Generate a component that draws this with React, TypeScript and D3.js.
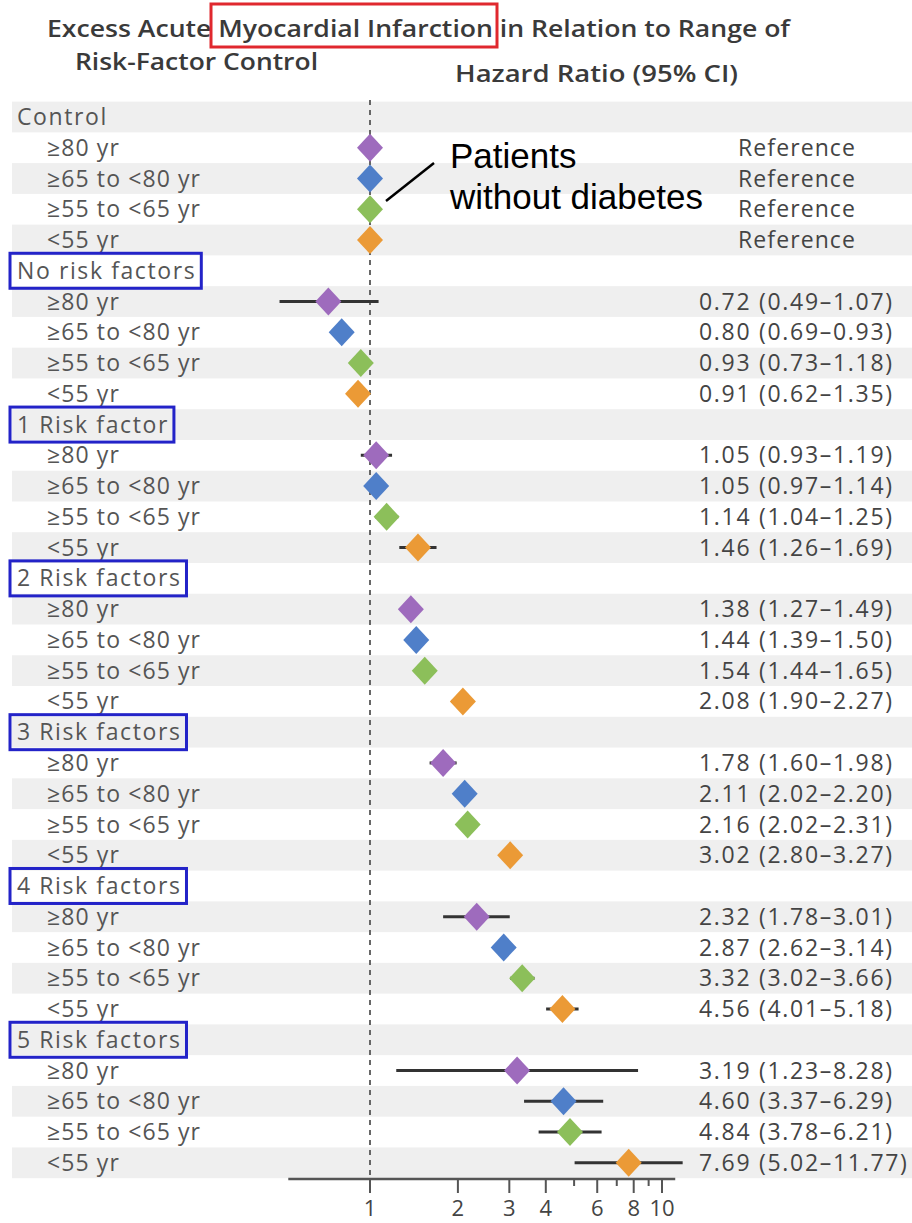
import React, { useEffect, useRef } from "react";
import * as d3 from "d3";

const groups = ["Control", "No risk factors", "1 Risk factor", "2 Risk factors", "3 Risk factors", "4 Risk factors", "5 Risk factors"];
const ages = ["≥80 yr", "≥65 to <80 yr", "≥55 to <65 yr", "<55 yr"];
const ageColors = ["#9e6bbd", "#4f7fc9", "#8cbf5a", "#eb9a36"];
// hazard ratios [group][age]
const hr = [
  [1, 1, 1, 1],
  [0.72, 0.8, 0.93, 0.91],
  [1.05, 1.05, 1.14, 1.46],
  [1.38, 1.44, 1.54, 2.08],
  [1.78, 2.11, 2.16, 3.02],
  [2.32, 2.87, 3.32, 4.56],
  [3.19, 4.6, 4.84, 7.69],
];
const lower = [
  [null, null, null, null],
  [0.49, 0.69, 0.73, 0.62],
  [0.93, 0.97, 1.04, 1.26],
  [1.27, 1.39, 1.44, 1.9],
  [1.6, 2.02, 2.02, 2.8],
  [1.78, 2.62, 3.02, 4.01],
  [1.23, 3.37, 3.78, 5.02],
];
const upper = [
  [null, null, null, null],
  [1.07, 0.93, 1.18, 1.35],
  [1.19, 1.14, 1.25, 1.69],
  [1.49, 1.5, 1.65, 2.27],
  [1.98, 2.2, 2.31, 3.27],
  [3.01, 3.14, 3.66, 5.18],
  [8.28, 6.29, 6.21, 11.77],
];
// whether the reference figure draws a whisker for the row
const whiskerShown = [
  [false, false, false, false],
  [true, false, false, false],
  [true, true, true, true],
  [true, true, true, true],
  [true, true, true, true],
  [true, true, true, true],
  [true, true, true, true],
];
const majorTicks = [1, 2, 3, 4, 6, 8, 10];
const minorTicks = [5, 7, 9];

const W = 912;
const H = 1223;
const FONT = "'Open Sans', sans-serif";

export default function App() {
  const ref = useRef<SVGSVGElement | null>(null);

  useEffect(() => {
    const svg = d3.select(ref.current);
    svg.selectAll("*").remove();

    type Row = { id: string; label: string; kind: "group" | "age"; g: number; a: number };
    const rows: Row[] = [];
    groups.forEach((gname, gi) => {
      rows.push({ id: `g${gi}`, label: gname, kind: "group", g: gi, a: -1 });
      ages.forEach((an, ai) => rows.push({ id: `g${gi}a${ai}`, label: an, kind: "age", g: gi, a: ai }));
    });

    const rowH = 30.76;
    const y = d3.scaleBand<string>().domain(rows.map((r) => r.id)).range([101.6, 101.6 + rows.length * rowH]).padding(0);
    const yc = (id: string) => (y(id) as number) + y.bandwidth() / 2;
    const x = d3.scaleLog().domain([1, 10]).range([370, 662]);
    const axisY = 1179;

    // stripes
    svg
      .append("g")
      .selectAll("rect")
      .data(rows.filter((_, i) => i % 2 === 0))
      .join("rect")
      .attr("x", 12)
      .attr("width", W - 12)
      .attr("y", (d) => y(d.id) as number)
      .attr("height", y.bandwidth())
      .attr("fill", "#efefef");

    // title
    const title = svg.append("g").attr("font-family", FONT).attr("font-weight", 600).attr("fill", "#3a3a3a").attr("font-size", 24);
    title.append("text").attr("x", 47).attr("y", 37).attr("textLength", 743).attr("lengthAdjust", "spacingAndGlyphs").text("Excess Acute Myocardial Infarction in Relation to Range of");
    title.append("text").attr("x", 75).attr("y", 70).attr("textLength", 243).attr("lengthAdjust", "spacingAndGlyphs").text("Risk-Factor Control");
    title.append("text").attr("x", 455).attr("y", 82).attr("textLength", 283).attr("lengthAdjust", "spacingAndGlyphs").text("Hazard Ratio (95% CI)");

    svg.append("rect").attr("x", 211).attr("y", 4).attr("width", 286).attr("height", 43).attr("fill", "none").attr("stroke", "#e0282e").attr("stroke-width", 3);

    // reference dashed line
    svg.append("line").attr("x1", x(1)).attr("x2", x(1)).attr("y1", 100).attr("y2", axisY).attr("stroke", "#666").attr("stroke-width", 2).attr("stroke-dasharray", "5,5");

    // row labels
    const labels = svg.append("g").attr("font-family", FONT).attr("font-size", 23).attr("fill", "#555");
    rows.forEach((r) => {
      const t = labels
        .append("text")
        .attr("x", r.kind === "group" ? 17 : 47)
        .attr("y", yc(r.id))
        .attr("dy", "0.35em")
        .attr("letter-spacing", r.kind === "group" ? 1.6 : 1.1)
        .text(r.label);
      if (r.kind === "group" && r.g > 0) {
        const len = (t.node() as SVGTextElement).getComputedTextLength();
        svg
          .append("rect")
          .attr("x", 10)
          .attr("y", yc(r.id) - 17.5)
          .attr("width", len + 12)
          .attr("height", 35)
          .attr("fill", "none")
          .attr("stroke", "#2323c8")
          .attr("stroke-width", 3);
      }
    });

    // CI lines and diamonds
    const marks = svg.append("g");
    const ageRows = rows.filter((r) => r.kind === "age");
    marks
      .selectAll("line.ci")
      .data(ageRows.filter((r) => lower[r.g][r.a] != null && whiskerShown[r.g][r.a]))
      .join("line")
      .attr("class", "ci")
      .attr("x1", (r) => x(lower[r.g][r.a] as number))
      .attr("x2", (r) => x(upper[r.g][r.a] as number))
      .attr("y1", (r) => yc(r.id))
      .attr("y2", (r) => yc(r.id))
      .attr("stroke", "#333")
      .attr("stroke-width", 3);
    const hw = 13;
    const hh = 14;
    marks
      .selectAll("path.dia")
      .data(ageRows)
      .join("path")
      .attr("class", "dia")
      .attr("d", (r) => {
        const cx = x(hr[r.g][r.a]);
        const cy = yc(r.id);
        return `M${cx - hw},${cy}L${cx},${cy - hh}L${cx + hw},${cy}L${cx},${cy + hh}Z`;
      })
      .attr("fill", (r) => ageColors[r.a]);

    // values column
    const vals = svg.append("g").attr("font-family", FONT).attr("font-size", 23).attr("fill", "#444").attr("letter-spacing", 1.7);
    ageRows.forEach((r) => {
      if (r.g === 0) {
        vals.append("text").attr("x", 797).attr("y", yc(r.id)).attr("dy", "0.35em").attr("text-anchor", "middle").attr("letter-spacing", 1.1).text("Reference");
      } else {
        const txt = `${hr[r.g][r.a].toFixed(2)} (${(lower[r.g][r.a] as number).toFixed(2)}–${(upper[r.g][r.a] as number).toFixed(2)})`;
        vals.append("text").attr("x", 699).attr("y", yc(r.id)).attr("dy", "0.35em").text(txt);
      }
    });

    // annotation
    svg.append("line").attr("x1", 386).attr("y1", 201).attr("x2", 434).attr("y2", 163).attr("stroke", "#000").attr("stroke-width", 2.5);
    const ann = svg.append("g").attr("font-family", "'Liberation Sans', Arial, sans-serif").attr("font-size", 35).attr("fill", "#000");
    ann.append("text").attr("x", 450).attr("y", 168).text("Patients");
    ann.append("text").attr("x", 450).attr("y", 209).text("without diabetes");

    // axis
    const axis = svg.append("g");
    axis.append("line").attr("x1", x(0.525)).attr("x2", x(11.1)).attr("y1", axisY).attr("y2", axisY).attr("stroke", "#555").attr("stroke-width", 2.5);
    axis
      .selectAll("line.maj")
      .data(majorTicks)
      .join("line")
      .attr("class", "maj")
      .attr("x1", (d) => x(d))
      .attr("x2", (d) => x(d))
      .attr("y1", axisY)
      .attr("y2", axisY + 14)
      .attr("stroke", "#555")
      .attr("stroke-width", 2);
    axis
      .selectAll("line.min")
      .data(minorTicks)
      .join("line")
      .attr("class", "min")
      .attr("x1", (d) => x(d))
      .attr("x2", (d) => x(d))
      .attr("y1", axisY)
      .attr("y2", axisY + 7)
      .attr("stroke", "#555")
      .attr("stroke-width", 2);
    axis
      .selectAll("text")
      .data(majorTicks)
      .join("text")
      .attr("x", (d) => x(d))
      .attr("y", 1216)
      .attr("text-anchor", "middle")
      .attr("font-family", FONT)
      .attr("font-size", 22)
      .attr("fill", "#444")
      .text((d) => String(d));
  }, []);

  return <svg ref={ref} width={W} height={H} style={{ position: "absolute", left: 0, top: 0, background: "#fff" }} />;
}
